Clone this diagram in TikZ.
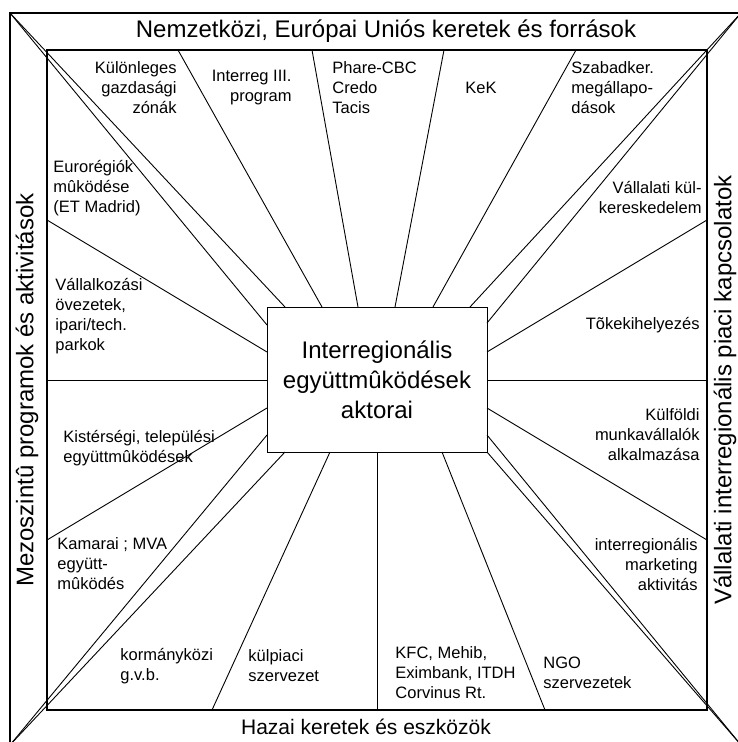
\documentclass[tikz,border=0pt]{standalone}
\usepackage{fontspec}
\setmainfont{Liberation Sans}
\begin{document}
\begin{tikzpicture}[x=1pt,y=-1pt,
  line width=0.9pt,
  frame/.style={draw, line width=1.1pt},
  boxst/.style={draw, line width=1pt, minimum width=220pt, minimum height=145pt, inner sep=0pt,
    align=center, font=\fontsize{24}{30}\selectfont},
  lbl/.style={inner sep=0pt, font=\fontsize{16.5}{20}\selectfont},
  lblL/.style={lbl, anchor=west, align=left},
  lblR/.style={lbl, anchor=east, align=right},
  ttl/.style={inner sep=0pt, font=\fontsize{24}{28}\selectfont}]
\useasboundingbox (0,0) rectangle (738,742);
% frames
\draw[frame] (10,13) rectangle (741,745);
\draw[frame] (47,50) rectangle (707,710);
\node[boxst] (box) at (377,379.5) {Interregionális\\együttmûködések\\aktorai};
% outer corners
\coordinate (otl) at (10,13);
\coordinate (otr) at (741,13);
\coordinate (obr) at (741,745);
\coordinate (obl) at (10,745);
% points on the box
\coordinate (b1) at (267,325);
\coordinate (b2) at (285,307);
\coordinate (b3) at (322,307);
\coordinate (b4) at (358,307);
\coordinate (b5) at (395,307);
\coordinate (b6) at (433,307);
\coordinate (b7) at (470,307);
\coordinate (b8) at (487,323);
\coordinate (b9) at (487,352);
\coordinate (b10) at (487,380);
\coordinate (b11) at (487,408);
\coordinate (b12) at (487,435);
\coordinate (b13) at (487,452);
\coordinate (b14) at (442,452);
\coordinate (b15) at (377,452);
\coordinate (b16) at (330,452);
\coordinate (b17) at (285,452);
\coordinate (b18) at (267,435);
\coordinate (b19) at (267,408);
\coordinate (b20) at (267,380);
\coordinate (b21) at (267,352);
% points on the inner frame
\coordinate (t1) at (178,50);
\coordinate (t2) at (312,50);
\coordinate (t3) at (444,50);
\coordinate (t4) at (576,50);
\coordinate (r1) at (707,220);
\coordinate (r2) at (707,380);
\coordinate (r3) at (707,540);
\coordinate (d1) at (545,710);
\coordinate (d2) at (377,710);
\coordinate (d3) at (212,710);
\coordinate (l1) at (47,540);
\coordinate (l2) at (47,380);
\coordinate (l3) at (47,220);
% spokes
\draw (otl) -- (b1);
\draw (otl) -- (b2);
\draw (t1) -- (b3);
\draw (t2) -- (b4);
\draw (t3) -- (b5);
\draw (t4) -- (b6);
\draw (otr) -- (b7);
\draw (otr) -- (b8);
\draw (r1) -- (b9);
\draw (r2) -- (b10);
\draw (r3) -- (b11);
\draw (obr) -- (b12);
\draw (obr) -- (b13);
\draw (d1) -- (b14);
\draw (d2) -- (b15);
\draw (d3) -- (b16);
\draw (obl) -- (b17);
\draw (obl) -- (b18);
\draw (l1) -- (b19);
\draw (l2) -- (b20);
\draw (l3) -- (b21);
% titles
\node[ttl] (ttop) at (386,31) {Nemzetközi, Európai Uniós keretek és források};
\node[ttl, font=\fontsize{21}{25}\selectfont] (tbot) at (366,727) {Hazai keretek és eszközök};
\node[ttl, rotate=90] (tleft) at (27,390) {Mezoszintû programok és aktivitások};
\node[ttl, rotate=90] (tright) at (725,390) {Vállalati interregionális piaci kapcsolatok};
% labels
\node[lblR] (n1) at (177,88) {Különleges\\gazdasági\\zónák};
\node[lblR] (n2) at (292,88) {Interreg III.\\program};
\node[lblL] (n3) at (332,88) {Phare-CBC\\Credo\\Tacis};
\node[lbl] (n4) at (481,88) {KeK};
\node[lblL] (n5) at (571,88) {Szabadker.\\megállapo-\\dások};
\node[lblL] (n6) at (53,188) {Eurorégiók\\mûködése\\(ET Madrid)};
\node[lblR] (n7) at (702,198) {Vállalati kül-\\kereskedelem};
\node[lblL] (n8) at (55,316) {Vállalkozási\\övezetek,\\ipari/tech.\\parkok};
\node[lblR] (n9) at (700,325) {Tõkekihelyezés};
\node[lblL] (n10) at (63,448) {Kistérségi, települési\\együttmûködések};
\node[lblR] (n11) at (700,435) {Külföldi\\munkavállalók\\alkalmazása};
\node[lblL] (n12) at (57,564) {Kamarai ; MVA\\együtt-\\mûködés};
\node[lblR] (n13) at (698,564) {interregionális\\marketing\\aktivitás};
\node[lblL] (n14) at (120,666) {kormányközi\\g.v.b.};
\node[lblL] (n15) at (248,666) {külpiaci\\szervezet};
\node[lblL] (n16) at (395,673) {KFC, Mehib,\\Eximbank, ITDH\\Corvinus Rt.};
\node[lblL] (n17) at (543,673) {NGO\\szervezetek};
\end{tikzpicture}
\end{document}
